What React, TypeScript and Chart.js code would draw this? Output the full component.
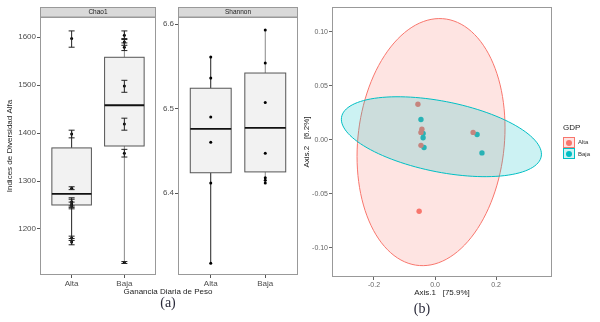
import React, { useEffect, useRef } from "react";
import { Chart, registerables } from "chart.js";
Chart.register(...registerables);

const FONT = "'Liberation Sans', Arial, sans-serif";

// ---------- data ----------
const groups = ["Alta", "Baja"];
const groupPos = [1, 2];
const boxHalfWidth = 0.375;

// box statistics: [lower whisker, q1, median, q3, upper whisker]
const chao1AltaBox = [1167, 1250, 1273, 1369, 1405];
const chao1BajaBox = [1130, 1373, 1458, 1558, 1613];
const chao1AltaValues = [1597, 1398, 1285, 1257, 1252, 1248, 1181, 1173];
const chao1AltaLow = [1579, 1390, 1282, 1248, 1245, 1242, 1176, 1167];
const chao1AltaHigh = [1613, 1406, 1288, 1265, 1262, 1256, 1185, 1180];
const chao1BajaValues = [1604, 1590, 1579, 1498, 1419, 1358, 1130];
const chao1BajaLow = [1595, 1583, 1572, 1485, 1406, 1350, 1128];
const chao1BajaHigh = [1613, 1597, 1588, 1510, 1431, 1366, 1132];
const chao1Ticks = [1200, 1300, 1400, 1500, 1600];
const chao1TickLabels = ["1200", "1300", "1400", "1500", "1600"];

const shannonAltaBox = [6.317, 6.424, 6.476, 6.524, 6.561];
const shannonBajaBox = [6.412, 6.425, 6.477, 6.542, 6.593];
const shannonAltaValues = [6.561, 6.536, 6.49, 6.46, 6.412, 6.317];
const shannonBajaValues = [6.593, 6.554, 6.507, 6.447, 6.418, 6.415, 6.412];
const shannonTicks = [6.4, 6.5, 6.6];
const shannonTickLabels = ["6.4", "6.5", "6.6"];

const pcoaAltaX = [-0.056, -0.043, -0.046, -0.046, -0.052, 0.125];
const pcoaAltaY = [0.033, 0.01, 0.007, -0.005, -0.066, 0.007];
const pcoaBajaX = [-0.046, -0.039, -0.039, -0.036, 0.138, 0.154];
const pcoaBajaY = [0.019, 0.006, 0.002, -0.007, 0.005, -0.012];
const pcoaXTicks = [-0.2, 0, 0.2];
const pcoaXTickLabels = ["-0.2", "0.0", "0.2"];
const pcoaYTicks = [-0.1, -0.05, 0, 0.05, 0.1];
const pcoaYTickLabels = ["-0.10", "-0.05", "0.00", "0.05", "0.10"];

// ellipse parameters (data units): centre, half extents, covariance term
const ellipseCenterX = [-0.013, 0.021];
const ellipseCenterY = [-0.002, 0.003];
const ellipseHalfWidth = [0.2426, 0.328];
const ellipseHalfHeight = [0.1144, 0.037];
const ellipseCov = [0.0032, -0.0053];

const groupColors = ["#F8766D", "#00BFC4"];
const groupFills = ["rgba(248,118,109,0.2)", "rgba(0,191,196,0.2)"];

// ---------- box panel ----------
type BoxPanelProps = {
  left: number;
  width: number;
  height: number;
  yAxisWidth: number;
  padRight: number;
  strip: string;
  boxes: number[][];
  values: number[][];
  lows?: number[][];
  highs?: number[][];
  yMin: number;
  yMax: number;
  yTicks: number[];
  yTickLabels: string[];
  yTitle?: string;
  whiskerColors: string[];
};

function BoxPanel(p: BoxPanelProps) {
  const ref = useRef<HTMLCanvasElement>(null);
  useEffect(() => {
    if (!ref.current) return;
    const plugin = {
      id: "boxes",
      beforeDatasetsDraw(chart: any) {
        const { ctx } = chart;
        const xs = chart.scales.x;
        const ys = chart.scales.y;
        p.boxes.forEach((b, i) => {
          const cx = xs.getPixelForValue(groupPos[i]);
          const x0 = xs.getPixelForValue(groupPos[i] - boxHalfWidth);
          const x1 = xs.getPixelForValue(groupPos[i] + boxHalfWidth);
          const [mn, q1, md, q3, mx] = b.map((v) => ys.getPixelForValue(v));
          ctx.save();
          ctx.strokeStyle = p.whiskerColors[i];
          ctx.lineWidth = 1;
          ctx.beginPath();
          ctx.moveTo(cx, q1);
          ctx.lineTo(cx, mn);
          ctx.moveTo(cx, q3);
          ctx.lineTo(cx, mx);
          ctx.stroke();
          ctx.fillStyle = "#F2F2F2";
          ctx.fillRect(x0, q3, x1 - x0, q1 - q3);
          ctx.strokeStyle = "#555";
          ctx.lineWidth = 1;
          ctx.strokeRect(x0, q3, x1 - x0, q1 - q3);
          ctx.strokeStyle = "#111";
          ctx.lineWidth = 1.8;
          ctx.beginPath();
          ctx.moveTo(x0, md);
          ctx.lineTo(x1, md);
          ctx.stroke();
          ctx.restore();
        });
      },
      afterDatasetsDraw(chart: any) {
        if (!p.lows || !p.highs) return;
        const { ctx } = chart;
        const xs = chart.scales.x;
        const ys = chart.scales.y;
        ctx.save();
        ctx.strokeStyle = "#222";
        ctx.lineWidth = 1;
        p.lows.forEach((lo, i) => {
          const cx = xs.getPixelForValue(groupPos[i]);
          lo.forEach((l, j) => {
            const h = p.highs![i][j];
            const yl = ys.getPixelForValue(l);
            const yh = ys.getPixelForValue(h);
            ctx.beginPath();
            ctx.moveTo(cx, yl);
            ctx.lineTo(cx, yh);
            ctx.moveTo(cx - 3, yl);
            ctx.lineTo(cx + 3, yl);
            ctx.moveTo(cx - 3, yh);
            ctx.lineTo(cx + 3, yh);
            ctx.stroke();
          });
        });
        ctx.restore();
      },
      afterDraw(chart: any) {
        const { ctx, chartArea: a } = chart;
        ctx.save();
        ctx.strokeStyle = "#999";
        ctx.lineWidth = 1;
        ctx.strokeRect(a.left + 0.5, a.top + 0.5, a.right - a.left - 1, a.bottom - a.top - 1);
        ctx.fillStyle = "#D9D9D9";
        ctx.fillRect(a.left + 0.5, 7.5, a.right - a.left - 1, a.top - 7.5);
        ctx.strokeRect(a.left + 0.5, 7.5, a.right - a.left - 1, a.top - 7.5);
        ctx.fillStyle = "#1A1A1A";
        ctx.font = `6.5px ${FONT}`;
        ctx.textAlign = "center";
        ctx.textBaseline = "middle";
        ctx.fillText(p.strip, (a.left + a.right) / 2, (7 + a.top) / 2 + 0.5);
        ctx.restore();
      },
    };
    const chart = new Chart(ref.current, {
      type: "scatter",
      data: {
        datasets: groups.map((g, i) => ({
          label: g,
          data: p.values[i].map((v) => ({ x: groupPos[i], y: v })),
          pointRadius: 1.5,
          pointBackgroundColor: "#000",
          pointBorderColor: "#000",
          pointBorderWidth: 0,
        })),
      },
      options: {
        animation: false,
        responsive: false,
        maintainAspectRatio: false,
        layout: { padding: { top: 17, right: p.padRight, left: 0, bottom: 0 } },
        plugins: { legend: { display: false }, tooltip: { enabled: false } },
        scales: {
          x: {
            type: "linear",
            min: 0.4,
            max: 2.6,
            afterBuildTicks: (s: any) => {
              s.ticks = groupPos.map((v) => ({ value: v }));
            },
            afterFit: (s: any) => {
              s.height = p.height - 275;
            },
            ticks: {
              callback: (_v: any, i: number) => groups[i],
              font: { size: 8, family: FONT },
              color: "#4D4D4D",
              padding: 1,
              maxRotation: 0,
              autoSkip: false,
            },
            grid: { drawOnChartArea: false, tickLength: 3, color: "#555" },
            border: { display: false },
          },
          y: {
            type: "linear",
            min: p.yMin,
            max: p.yMax,
            afterBuildTicks: (s: any) => {
              s.ticks = p.yTicks.map((v) => ({ value: v }));
            },
            afterFit: (s: any) => {
              s.width = p.yAxisWidth;
            },
            ticks: {
              callback: (_v: any, i: number) => p.yTickLabels[i],
              font: { size: 8, family: FONT },
              color: "#4D4D4D",
              padding: 1,
              autoSkip: false,
            },
            grid: { drawOnChartArea: false, tickLength: 3, color: "#555" },
            border: { display: false },
            title: {
              display: !!p.yTitle,
              text: p.yTitle || "",
              font: { size: 8, family: FONT },
              color: "#222",
              padding: { top: 5, bottom: 0 },
            },
          },
        },
      } as any,
      plugins: [plugin],
    });
    return () => chart.destroy();
  }, []);
  return (
    <canvas
      ref={ref}
      width={p.width}
      height={p.height}
      style={{ position: "absolute", left: p.left, top: 0, width: p.width, height: p.height }}
    />
  );
}

// ---------- PCoA panel ----------
function PcoaPanel() {
  const ref = useRef<HTMLCanvasElement>(null);
  useEffect(() => {
    if (!ref.current) return;
    const plugin = {
      id: "ellipses",
      afterDatasetsDraw(chart: any) {
        const { ctx } = chart;
        const xs = chart.scales.x;
        const ys = chart.scales.y;
        ellipseCenterX.forEach((cx, i) => {
          const W = ellipseHalfWidth[i];
          const H = ellipseHalfHeight[i];
          const C = ellipseCov[i];
          const a2 = C / W;
          const b2 = Math.sqrt(H * H - a2 * a2);
          ctx.save();
          ctx.beginPath();
          const n = 120;
          for (let k = 0; k <= n; k++) {
            const t = (k / n) * Math.PI * 2;
            const x = cx + W * Math.cos(t);
            const y = ellipseCenterY[i] + a2 * Math.cos(t) + b2 * Math.sin(t);
            const px = xs.getPixelForValue(x);
            const py = ys.getPixelForValue(y);
            if (k === 0) ctx.moveTo(px, py);
            else ctx.lineTo(px, py);
          }
          ctx.closePath();
          ctx.fillStyle = groupFills[i];
          ctx.fill();
          ctx.strokeStyle = groupColors[i];
          ctx.lineWidth = 1;
          ctx.stroke();
          ctx.restore();
        });
      },
      afterDraw(chart: any) {
        const { ctx, chartArea: a } = chart;
        ctx.save();
        ctx.strokeStyle = "#999";
        ctx.lineWidth = 1;
        ctx.strokeRect(a.left + 0.5, a.top + 0.5, a.right - a.left - 1, a.bottom - a.top - 1);
        ctx.restore();
      },
    };
    const xsData = [pcoaAltaX, pcoaBajaX];
    const ysData = [pcoaAltaY, pcoaBajaY];
    const chart = new Chart(ref.current, {
      type: "scatter",
      data: {
        datasets: groups.map((g, i) => ({
          label: g,
          data: xsData[i].map((x, j) => ({ x, y: ysData[i][j] })),
          pointRadius: 2.7,
          pointBackgroundColor: groupColors[i],
          pointBorderWidth: 0,
        })),
      },
      options: {
        animation: false,
        responsive: false,
        maintainAspectRatio: false,
        layout: { padding: { top: 7, right: 48, left: 0, bottom: 0 } },
        plugins: { legend: { display: false }, tooltip: { enabled: false } },
        scales: {
          x: {
            type: "linear",
            min: -0.3377,
            max: 0.3836,
            afterBuildTicks: (s: any) => {
              s.ticks = pcoaXTicks.map((v) => ({ value: v }));
            },
            afterFit: (s: any) => {
              s.height = 45;
            },
            ticks: {
              callback: (_v: any, i: number) => pcoaXTickLabels[i],
              font: { size: 7, family: FONT },
              color: "#666",
              padding: 1,
              maxRotation: 0,
              autoSkip: false,
            },
            grid: { drawOnChartArea: false, tickLength: 3, color: "#666" },
            border: { display: false },
            title: {
              display: true,
              text: "Axis.1   [75.9%]",
              font: { size: 8, family: FONT },
              color: "#222",
              padding: { top: 0, bottom: 24 },
            },
          },
          y: {
            type: "linear",
            min: -0.1269,
            max: 0.1231,
            afterBuildTicks: (s: any) => {
              s.ticks = pcoaYTicks.map((v) => ({ value: v }));
            },
            afterFit: (s: any) => {
              s.width = 32;
            },
            ticks: {
              callback: (_v: any, i: number) => pcoaYTickLabels[i],
              font: { size: 7, family: FONT },
              color: "#666",
              padding: 1,
              autoSkip: false,
            },
            grid: { drawOnChartArea: false, tickLength: 3, color: "#666" },
            border: { display: false },
            title: {
              display: true,
              text: "Axis.2   [6.2%]",
              font: { size: 8, family: FONT },
              color: "#222",
              padding: { top: 2, bottom: 0 },
            },
          },
        },
      } as any,
      plugins: [plugin],
    });
    return () => chart.destroy();
  }, []);
  return (
    <canvas
      ref={ref}
      width={300}
      height={322}
      style={{ position: "absolute", left: 300, top: 0, width: 300, height: 322 }}
    />
  );
}

function LegendKey({ top, i }: { top: number; i: number }) {
  return (
    <div
      style={{
        position: "absolute",
        left: 563,
        top,
        width: 10,
        height: 9,
        background: groupFills[i],
        border: `1px solid ${groupColors[i]}`,
      }}
    >
      <div
        style={{
          position: "absolute",
          left: 2,
          top: 1.5,
          width: 6,
          height: 6,
          borderRadius: 3,
          background: groupColors[i],
        }}
      />
    </div>
  );
}

export default function App() {
  const text = (s: React.CSSProperties) => ({
    position: "absolute" as const,
    fontFamily: FONT,
    whiteSpace: "pre" as const,
    lineHeight: 1,
    ...s,
  });
  return (
    <div style={{ position: "fixed", left: 0, top: 0, width: 600, height: 322, background: "#fff", overflow: "hidden" }}>
      <BoxPanel
        left={0}
        width={160}
        height={300}
        yAxisWidth={40}
        padRight={2}
        strip="Chao1"
        boxes={[chao1AltaBox, chao1BajaBox]}
        values={[chao1AltaValues, chao1BajaValues]}
        lows={[chao1AltaLow, chao1BajaLow]}
        highs={[chao1AltaHigh, chao1BajaHigh]}
        yMin={1104}
        yMax={1642}
        yTicks={chao1Ticks}
        yTickLabels={chao1TickLabels}
        yTitle="Indices de Diversidad Alfa"
        whiskerColors={["#222", "#888"]}
      />
      <BoxPanel
        left={160}
        width={145}
        height={300}
        yAxisWidth={18}
        padRight={7}
        strip="Shannon"
        boxes={[shannonAltaBox, shannonBajaBox]}
        values={[shannonAltaValues, shannonBajaValues]}
        yMin={6.303}
        yMax={6.6083}
        yTicks={shannonTicks}
        yTickLabels={shannonTickLabels}
        whiskerColors={["#222", "#888"]}
      />
      <PcoaPanel />
      <div style={text({ left: 88, top: 288, width: 160, textAlign: "center", fontSize: 8, color: "#222" })}>
        Ganancia Diaria de Peso
      </div>
      <div style={text({ left: 128, top: 296, width: 80, textAlign: "center", fontSize: 14, color: "#2a2a3a", fontFamily: "'Liberation Serif', serif" })}>
        (a)
      </div>
      <div style={text({ left: 382, top: 302, width: 80, textAlign: "center", fontSize: 14, color: "#2a2a3a", fontFamily: "'Liberation Serif', serif" })}>
        (b)
      </div>
      <div style={text({ left: 563, top: 124, fontSize: 8, color: "#222" })}>GDP</div>
      <LegendKey top={137} i={0} />
      <LegendKey top={148} i={1} />
      <div style={text({ left: 578, top: 139, fontSize: 6, color: "#333" })}>Alta</div>
      <div style={text({ left: 578, top: 151, fontSize: 6, color: "#333" })}>Baja</div>
    </div>
  );
}
